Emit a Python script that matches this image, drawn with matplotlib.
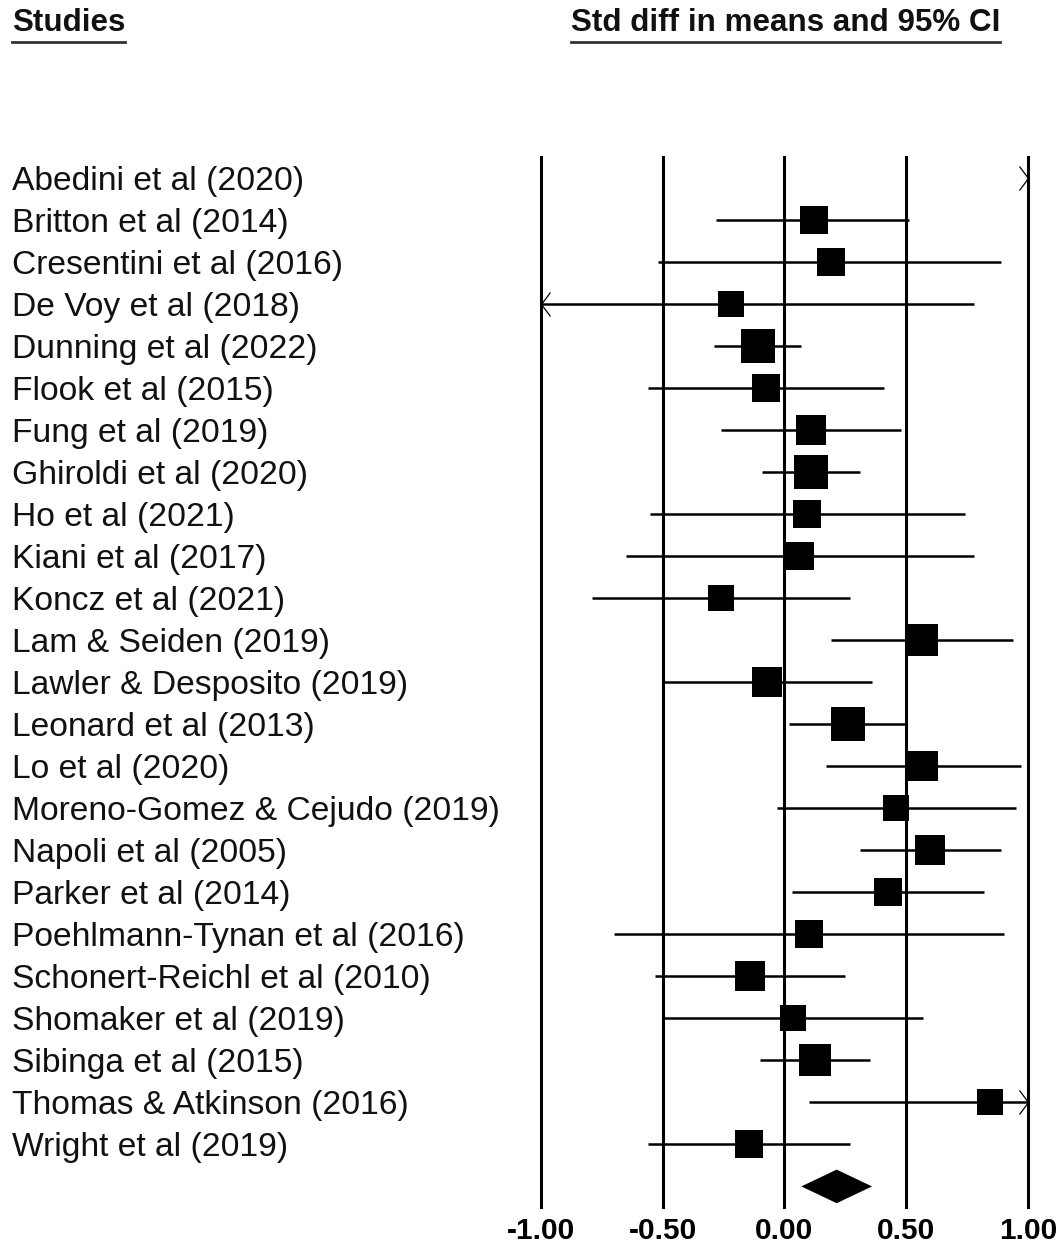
import numpy as np
import matplotlib
matplotlib.use("Agg")
import matplotlib.pyplot as plt
from matplotlib.path import Path
from matplotlib.transforms import blended_transform_factory
from matplotlib.lines import Line2D

plt.rcParams['font.family'] = ['Liberation Sans', 'DejaVu Sans']

# ---- data -------------------------------------------------------------
studies = [
    "Abedini et al (2020)", "Britton et al (2014)", "Cresentini et al (2016)",
    "De Voy et al (2018)", "Dunning et al (2022)", "Flook et al (2015)",
    "Fung et al (2019)", "Ghiroldi et al (2020)", "Ho et al (2021)",
    "Kiani et al (2017)", "Koncz et al (2021)", "Lam & Seiden (2019)",
    "Lawler & Desposito (2019)", "Leonard et al (2013)", "Lo et al (2020)",
    "Moreno-Gomez & Cejudo (2019)", "Napoli et al (2005)", "Parker et al (2014)",
    "Poehlmann-Tynan et al (2016)", "Schonert-Reichl et al (2010)",
    "Shomaker et al (2019)", "Sibinga et al (2015)", "Thomas & Atkinson (2016)",
    "Wright et al (2019)",
]
effect = [1.60, 0.12, 0.19, -0.22, -0.11, -0.075, 0.11, 0.11, 0.095, 0.065,
          -0.26, 0.565, -0.07, 0.26, 0.57, 0.46, 0.60, 0.425, 0.10, -0.14,
          0.035, 0.125, 0.845, -0.145]
ci_lower = [1.02, -0.28, -0.52, -1.21, -0.29, -0.56, -0.26, -0.09, -0.55, -0.65,
            -0.79, 0.19, -0.50, 0.02, 0.17, -0.03, 0.31, 0.03, -0.70, -0.53,
            -0.50, -0.10, 0.10, -0.56]
ci_upper = [2.18, 0.51, 0.89, 0.78, 0.07, 0.41, 0.48, 0.31, 0.74, 0.78,
            0.27, 0.94, 0.36, 0.50, 0.97, 0.95, 0.89, 0.82, 0.90, 0.25,
            0.57, 0.35, 1.59, 0.27]
weight_pct = [3.38, 4.06, 3.65, 3.52, 5.71, 3.65, 4.35, 5.39, 3.65, 4.06,
              3.52, 4.85, 4.35, 5.39, 4.64, 3.39, 4.64, 3.95, 3.65, 4.23,
              3.52, 5.16, 3.52, 3.79]
pooled = (0.215, 0.07, 0.36)   # effect, lower, upper
tick_values = [-1.0, -0.5, 0.0, 0.5, 1.0]

# ---- figure -----------------------------------------------------------
W, H, DPI = 1062, 1250, 100
fig = plt.figure(figsize=(W / DPI, H / DPI), dpi=DPI)
ax_left, ax_right = 540.7 / W, 1027.9 / W
ax_top, ax_bot = 157 / H, 1207 / H
ax = fig.add_axes([ax_left, 1 - ax_bot, ax_right - ax_left, ax_bot - ax_top])

xmin, xmax = -1.0, 1.0
n = len(studies)
rows = np.arange(n)
ax.set_xlim(xmin, xmax)
ax.set_ylim(24.49, -0.507)
for s in ax.spines.values():
    s.set_visible(False)
ax.set_yticks([])

# reference lines at each tick
for t in tick_values:
    ax.axvline(t, color='black', lw=2.2, clip_on=False, zorder=1)

# chevron arrowheads for intervals that run past the axis
chev_right = Path([(-0.75, 1.0), (0, 0), (-0.75, -1.0)],
                  [Path.MOVETO, Path.LINETO, Path.LINETO])
chev_left = Path([(0.75, 1.0), (0, 0), (0.75, -1.0)],
                 [Path.MOVETO, Path.LINETO, Path.LINETO])
chev_ms = 24 * 72 / DPI

for i in rows:
    lo, hi, est = ci_lower[i], ci_upper[i], effect[i]
    a, b = max(lo, xmin), min(hi, xmax)
    if a < b:
        ax.hlines(i, a, b, color='black', lw=1.8, zorder=2)
    if hi > xmax:
        ax.plot([xmax], [i], marker=chev_right, ms=chev_ms, mew=0.9,
                mfc='none', mec='black', clip_on=False, zorder=3)
    if lo < xmin:
        ax.plot([xmin], [i], marker=chev_left, ms=chev_ms, mew=0.9,
                mfc='none', mec='black', clip_on=False, zorder=3)
    if xmin <= est <= xmax:
        side_px = 14.39 * np.sqrt(weight_pct[i])
        ax.plot([est], [i], marker='s', ms=side_px * 72 / DPI, mew=0,
                color='black', zorder=4)

# pooled estimate diamond
pe, pl, pu = pooled
yd, hd = n, 0.40
ax.fill([pl, pe, pu, pe], [yd, yd - hd, yd, yd + hd], color='black',
        lw=0, zorder=4)

# x axis ticks
ax.set_xticks(tick_values)
ax.set_xticklabels([f"{t:.2f}" for t in tick_values], fontsize=21.5,
                   fontweight='bold')
ax.tick_params(axis='x', length=0, pad=7)

# study labels
trans = blended_transform_factory(fig.transFigure, ax.transData)
for i, name in enumerate(studies):
    ax.text(12 / W, i, name, transform=trans, ha='left',
            va='center_baseline', fontsize=24.2, color='#111111',
            clip_on=False)

# column headers with underline
headers = [("Studies", 12 / W), ("Std diff in means and 95% CI", 571 / W)]
fig.canvas.draw()
renderer = fig.canvas.get_renderer()
for txt, x in headers:
    t = fig.text(x, 1 - 23 / H, txt, ha='left', va='center', fontsize=22.6,
                 fontweight='bold', color='#111111')
    bb = t.get_window_extent(renderer=renderer)
    yline = 1 - 42 / H
    fig.add_artist(Line2D([bb.x0 / W, bb.x1 / W], [yline, yline],
                          transform=fig.transFigure, color='#333333', lw=2))

fig.savefig("out.png", dpi=DPI, facecolor='white')
